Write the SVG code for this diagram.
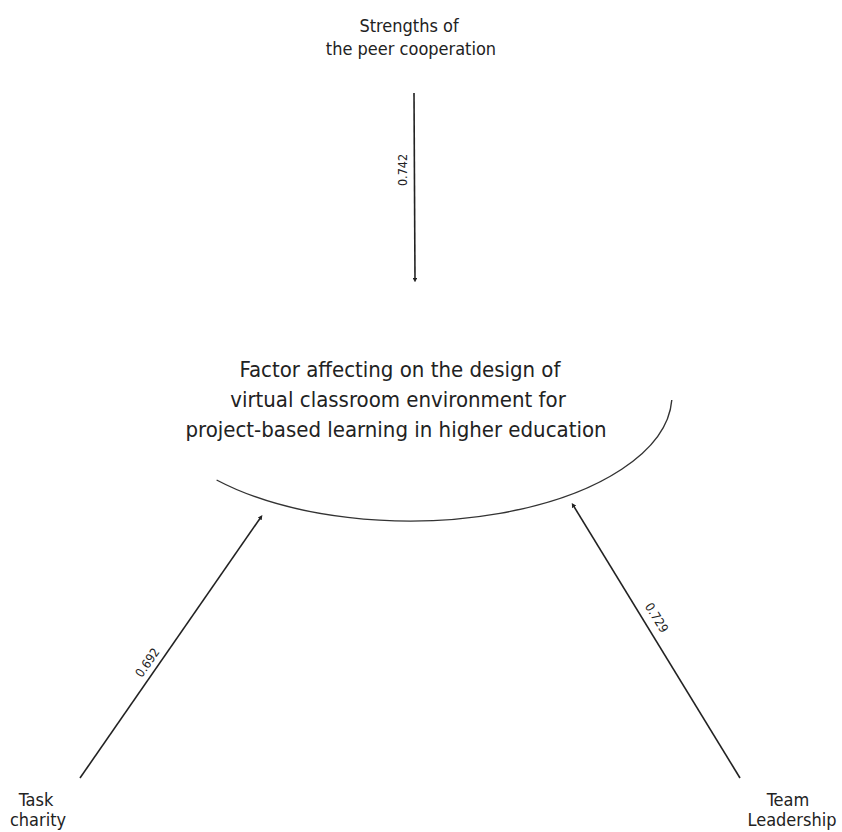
<svg xmlns="http://www.w3.org/2000/svg" width="842" height="832" viewBox="0 0 842 832">
<style>
text{font-family:"DejaVu Sans Condensed","DejaVu Sans",sans-serif;font-stretch:condensed;fill:#222;text-anchor:middle}
.lbl{font-size:18px}
.main{font-size:22px}
.w{font-size:12.5px}
.c{stroke:#222;stroke-width:1.6;fill:none;marker-end:url(#dot)}
</style>
<defs>
<marker id="dot" viewBox="0 0 6 6" refX="3" refY="3" markerWidth="3" markerHeight="3" orient="auto" markerUnits="strokeWidth">
<path d="M0,0 L6,3 L0,6 z" fill="#222"/>
</marker>
</defs>
<rect width="842" height="832" fill="#fff"/>
<g id="center">
<path d="M216.6 480 A262 126 0 0 0 671.8 400" fill="none" stroke="#333" stroke-width="1.4"/>
<text class="main" x="400" y="377">Factor affecting on the design of</text>
<text class="main" x="398" y="407">virtual classroom environment for</text>
<text class="main" x="396" y="437">project-based learning in higher education</text>
</g>
<g id="strengths">
<text class="lbl" x="409" y="32">Strengths of</text>
<text class="lbl" x="411" y="55">the peer cooperation</text>
</g>
<g id="task">
<text class="lbl" x="36" y="806">Task</text>
<text class="lbl" x="38" y="826">charity</text>
</g>
<g id="team">
<text class="lbl" x="788" y="806">Team</text>
<text class="lbl" x="792" y="826">Leadership</text>
</g>
<g id="connectors">
<line class="c" x1="414" y1="93" x2="415" y2="280"/>
<line class="c" x1="80" y1="778" x2="261" y2="517"/>
<line class="c" x1="740" y1="778" x2="573" y2="505"/>
<text class="w" transform="translate(407,170) rotate(-90)">0.742</text>
<text class="w" transform="translate(151,665) rotate(-55.2)">0.692</text>
<text class="w" transform="translate(653,620) rotate(58.6)">0.729</text>
</g>
</svg>
